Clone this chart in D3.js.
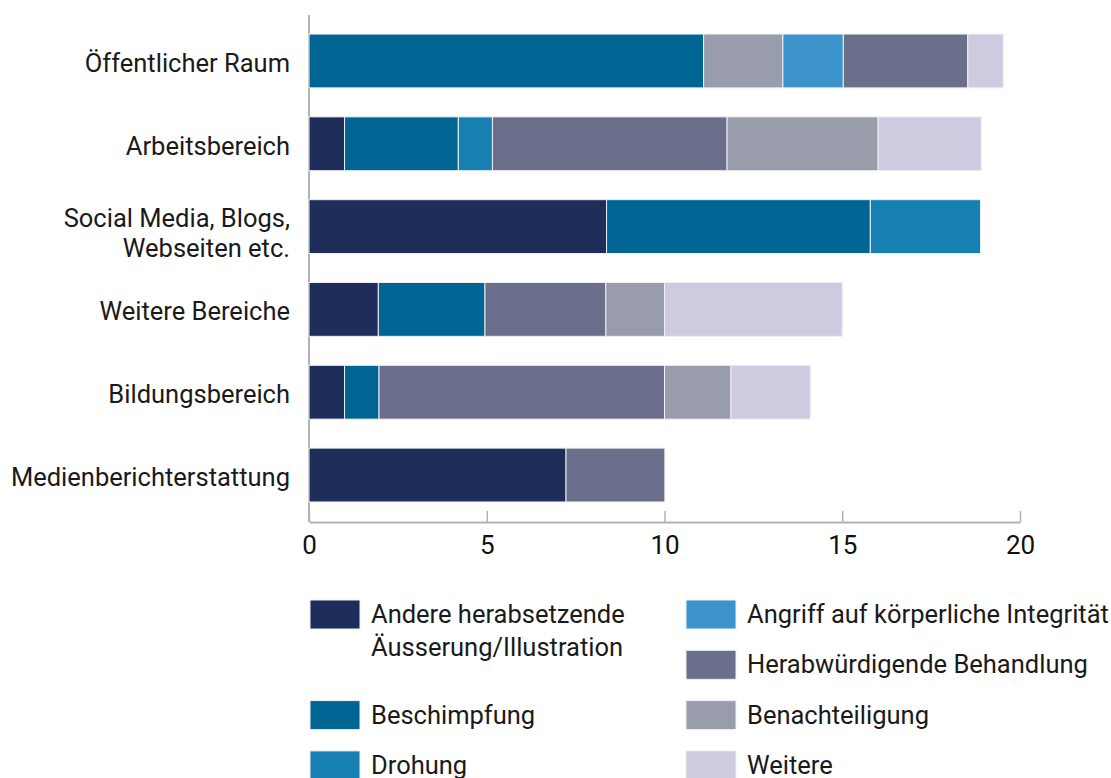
<!DOCTYPE html>
<html><head><meta charset="utf-8">
<script src="https://cdn.jsdelivr.net/npm/d3@7"></script>
<style>
html,body{margin:0;padding:0;background:#fff;}
svg{display:block;font-family:Roboto,"Noto Sans",sans-serif;}
</style></head>
<body>
<svg id="chart" width="1111" height="778"></svg>
<script>
// ---- data ----
const categories = [
  ["Öffentlicher Raum"],
  ["Arbeitsbereich"],
  ["Social Media, Blogs,", "Webseiten etc."],
  ["Weitere Bereiche"],
  ["Bildungsbereich"],
  ["Medienberichterstattung"]
];
const seriesNames = [
  ["Andere herabsetzende", "Äusserung/Illustration"],
  ["Beschimpfung"],
  ["Drohung"],
  ["Angriff auf körperliche Integrität"],
  ["Herabwürdigende Behandlung"],
  ["Benachteiligung"],
  ["Weitere"]
];
const andere        = [0,    1.0,  8.37, 1.95, 1.0,  7.23];
const beschimpfung  = [11.1, 3.2,  7.42, 3.0,  0.97, 0];
const drohung       = [0,    0.96, 3.1,  0,    0,    0];
const angriff       = [1.7,  0,    0,    0,    0,    0];
const herabw        = [3.5,  6.6,  0,    3.4,  8.03, 2.78];
const benacht       = [2.23, 4.25, 0,    1.65, 1.87, 0];
const weitere       = [1.0,  2.9,  0,    5.0,  2.23, 0];
const seriesValues = [andere, beschimpfung, drohung, angriff, herabw, benacht, weitere];
// stacking order of series within each bar (indices into seriesValues)
const stackOrder = [
  [1, 5, 3, 4, 6],
  [0, 1, 2, 3, 4, 5, 6],
  [0, 1, 2, 3, 4, 5, 6],
  [0, 1, 2, 3, 4, 5, 6],
  [0, 1, 2, 3, 4, 5, 6],
  [0, 1, 2, 3, 4, 5, 6]
];
const tickValues = [0, 5, 10, 15, 20];
const colors = ["#1e2d59", "#016594", "#1780b3", "#3d94cd", "#6c6f8c", "#999cab", "#cfcae0"];

// ---- layout ----
const svg = d3.select("#chart");
const x = d3.scaleLinear().domain([0, 20]).range([309, 1020]);
const y = d3.scaleBand().domain(d3.range(categories.length)).range([15, 521])
  .paddingInner(0.35).paddingOuter(0.23);

// build segments
const segs = [];
categories.forEach((c, ci) => {
  let acc = 0;
  stackOrder[ci].forEach(si => {
    const v = seriesValues[si][ci];
    if (v > 0) {
      segs.push({ci, si, x0: acc, x1: acc + v});
      acc += v;
    }
  });
});

// y axis line
svg.append("line")
  .attr("x1", 309).attr("x2", 309)
  .attr("y1", y.range()[0]).attr("y2", y.range()[1] + 1)
  .attr("stroke", "#b3b3b3").attr("stroke-width", 2);

// bars
svg.append("g").selectAll("rect").data(segs).join("rect")
  .attr("x", d => x(d.x0))
  .attr("y", d => y(d.ci))
  .attr("width", d => x(d.x1) - x(d.x0))
  .attr("height", y.bandwidth())
  .attr("fill", d => colors[d.si])
  .attr("stroke", "#eef0f4")
  .attr("stroke-width", 1);

// x axis
const xAxis = svg.append("g")
  .attr("transform", `translate(0,${y.range()[1] + 1})`)
  .call(d3.axisBottom(x).tickValues(tickValues).tickSize(-11).tickSizeOuter(0).tickPadding(14));
xAxis.select(".domain").attr("stroke", "#b3b3b3").attr("stroke-width", 2);
xAxis.selectAll(".tick line").attr("stroke", "#b3b3b3").attr("stroke-width", 1.5);
xAxis.selectAll(".tick text")
  .attr("font-family", "Roboto, sans-serif")
  .attr("font-size", 26).attr("fill", "#111");

// category labels
const labelG = svg.append("g");
categories.forEach((lines, ci) => {
  const cy = y(ci) + y.bandwidth() / 2;
  const lh = 30;
  const t = labelG.append("text")
    .attr("x", 290).attr("text-anchor", "end")
    .attr("font-size", 25.5).attr("fill", "#1a1a1a");
  lines.forEach((ln, li) => {
    t.append("tspan").attr("x", 290)
      .attr("y", cy + 2 + li * lh - (lines.length - 1) * 11)
      .attr("dy", "0.35em").text(ln);
  });
});

// legend: two columns, column-major flow, multi-line items take extra slots
const legCols = [310, 686];
const slotY0 = 614, slotStep = 50.3, slotsPerCol = 4;
let col = 0, slot = 0;
const leg = svg.append("g");
seriesNames.forEach((lines, si) => {
  const need = lines.length;
  if (slot + need > slotsPerCol) { col++; slot = 0; }
  const lx = legCols[col];
  const cy = slotY0 + slot * slotStep;
  leg.append("rect")
    .attr("x", lx).attr("y", cy - 14).attr("width", 50).attr("height", 29)
    .attr("fill", colors[si]).attr("stroke", "#eef0f4").attr("stroke-width", 1);
  const t = leg.append("text").attr("font-size", 25.5).attr("fill", "#1a1a1a");
  lines.forEach((ln, li) => {
    t.append("tspan").attr("x", lx + 61).attr("y", cy + li * 33).attr("dy", "0.35em").text(ln);
  });
  slot += need;
});
</script>
</body></html>
